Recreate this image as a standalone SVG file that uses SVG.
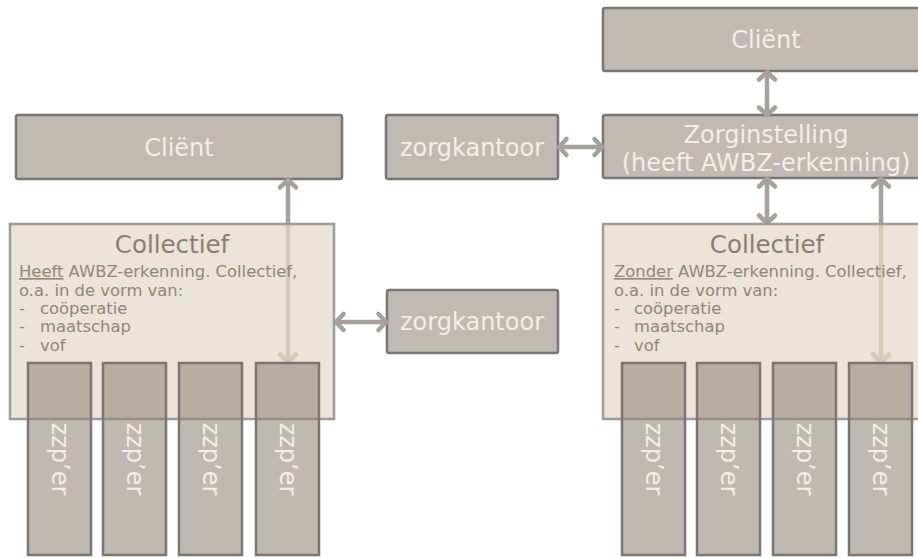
<svg xmlns="http://www.w3.org/2000/svg" width="918" height="558" viewBox="0 0 918 558">
<defs>
<marker id="chev" markerUnits="userSpaceOnUse" refX="-2" refY="0" markerWidth="20" markerHeight="20" orient="auto-start-reverse" overflow="visible">
<path d="M-7.5,-8 L0,0 L-7.5,8" fill="none" stroke="#a6a19b" stroke-width="4.5" stroke-linecap="round" stroke-linejoin="round"/>
</marker>
<style>
.box{fill:#c1bab3;stroke:#7b766f;stroke-width:2.5}
.zzp{fill:#8c8073;fill-opacity:0.55;stroke:#7b766f;stroke-width:2.5}
.col{fill:#e5dac9;fill-opacity:0.72;stroke:#a09b94;stroke-width:2.5}
.lt{font-family:"DejaVu Sans",Verdana,sans-serif;font-size:24px;fill:#f4efe7;text-anchor:middle}
.ttl{font-family:"DejaVu Sans",Verdana,sans-serif;font-size:24.5px;fill:#8a7e73;text-anchor:middle}
.bd{font-family:"DejaVu Sans",Verdana,sans-serif;font-size:16.4px;fill:#918679}
.con{fill:none;stroke:#a6a19b;stroke-width:4.5;marker-start:url(#chev);marker-end:url(#chev)}
</style>
</defs>
<rect width="918" height="558" fill="#ffffff"/>

<g id="client-left"><rect class="box" x="16" y="115" width="326" height="64" rx="2"/><text class="lt" x="179" y="156">Cliënt</text></g>
<g id="client-right"><rect class="box" x="603" y="8" width="326" height="63" rx="2"/><text class="lt" x="766" y="48">Cliënt</text></g>
<g id="zorgkantoor-top"><rect class="box" x="386" y="115" width="172" height="64" rx="2"/><text class="lt" x="472" y="156">zorgkantoor</text></g>
<g id="zorginstelling"><rect class="box" x="603" y="115" width="326" height="63" rx="2"/><text class="lt" x="766" y="143">Zorginstelling</text><text class="lt" x="766" y="171">(heeft AWBZ-erkenning)</text></g>
<g id="zorgkantoor-mid"><rect class="box" x="387" y="290" width="171" height="63" rx="2"/><text class="lt" x="472" y="330">zorgkantoor</text></g>

<g id="connectors">
<line class="con" x1="288" y1="182" x2="288" y2="360"/>
<line class="con" x1="338" y1="322" x2="384" y2="322"/>
<line class="con" x1="561" y1="147" x2="600" y2="147"/>
<line class="con" x1="767" y1="74" x2="767" y2="113"/>
<line class="con" x1="767" y1="181" x2="767" y2="221"/>
<line class="con" x1="881" y1="181" x2="881" y2="360"/>
</g>

<g id="collectief-left"><rect class="col" x="10" y="224" width="324" height="195"/>
<text class="ttl" x="172" y="253">Collectief</text>
<text class="bd" x="19" y="277"><tspan text-decoration="underline">Heeft</tspan> AWBZ-erkenning. Collectief,</text>
<text class="bd" x="19" y="295.5">o.a. in de vorm van:</text>
<text class="bd" y="314"><tspan x="19">-</tspan><tspan x="40">coöperatie</tspan></text>
<text class="bd" y="332"><tspan x="19">-</tspan><tspan x="40">maatschap</tspan></text>
<text class="bd" y="350.5"><tspan x="19">-</tspan><tspan x="40">vof</tspan></text>
</g>
<g id="collectief-right"><rect class="col" x="603" y="224" width="326" height="195"/>
<text class="ttl" x="767" y="253">Collectief</text>
<text class="bd" x="614" y="277"><tspan text-decoration="underline">Zonder</tspan> AWBZ-erkenning. Collectief,</text>
<text class="bd" x="614" y="295.5">o.a. in de vorm van:</text>
<text class="bd" y="314"><tspan x="614">-</tspan><tspan x="634">coöperatie</tspan></text>
<text class="bd" y="332"><tspan x="614">-</tspan><tspan x="634">maatschap</tspan></text>
<text class="bd" y="350.5"><tspan x="614">-</tspan><tspan x="634">vof</tspan></text>
</g>

<g id="zzp-l1"><rect class="zzp" x="28" y="363" width="63" height="192"/><text class="lt" transform="translate(59.5,459) rotate(90)" y="8">zzp’er</text></g>
<g id="zzp-l2"><rect class="zzp" x="103" y="363" width="63" height="192"/><text class="lt" transform="translate(134.5,459) rotate(90)" y="8">zzp’er</text></g>
<g id="zzp-l3"><rect class="zzp" x="179" y="363" width="63" height="192"/><text class="lt" transform="translate(210.5,459) rotate(90)" y="8">zzp’er</text></g>
<g id="zzp-l4"><rect class="zzp" x="256" y="363" width="63" height="192"/><text class="lt" transform="translate(287.5,459) rotate(90)" y="8">zzp’er</text></g>
<g id="zzp-r1"><rect class="zzp" x="622" y="363" width="63" height="192"/><text class="lt" transform="translate(653.5,459) rotate(90)" y="8">zzp’er</text></g>
<g id="zzp-r2"><rect class="zzp" x="697" y="363" width="63" height="192"/><text class="lt" transform="translate(728.5,459) rotate(90)" y="8">zzp’er</text></g>
<g id="zzp-r3"><rect class="zzp" x="773" y="363" width="63" height="192"/><text class="lt" transform="translate(804.5,459) rotate(90)" y="8">zzp’er</text></g>
<g id="zzp-r4"><rect class="zzp" x="849" y="363" width="63" height="192"/><text class="lt" transform="translate(880.5,459) rotate(90)" y="8">zzp’er</text></g>
</svg>
